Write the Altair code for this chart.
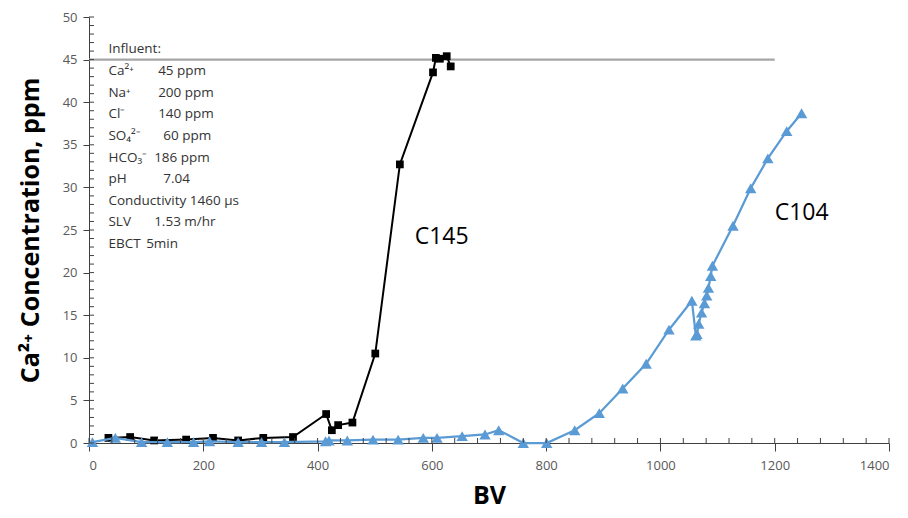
import altair as alt
import pandas as pd
import numpy as np

# ---- data ----
c145_bv = [34, 72, 114, 170, 217, 261, 305, 357, 415, 425, 436, 461, 501, 544, 602, 607, 614, 626, 633]
c145_ppm = [0.6, 0.7, 0.3, 0.4, 0.6, 0.3, 0.6, 0.7, 3.4, 1.5, 2.1, 2.4, 10.5, 32.7, 43.5, 45.2, 45.1, 45.4, 44.2]

c104_bv = [6, 46, 92, 137, 183, 211, 261, 302, 342, 414, 420, 452, 497, 541, 585, 609, 653, 693, 717,
           760, 801, 850, 893, 934, 975, 1015, 1055, 1062, 1064, 1067, 1072, 1077, 1081, 1084, 1088,
           1091, 1127, 1158, 1188, 1221, 1247]
c104_ppm = [0.1, 0.6, 0.1, 0.1, 0.1, 0.2, 0.1, 0.1, 0.1, 0.2, 0.3, 0.3, 0.4, 0.4, 0.6, 0.6, 0.8, 1.0, 1.5,
            0.0, 0.0, 1.5, 3.5, 6.4, 9.3, 13.3, 16.7, 12.6, 12.8, 14.0, 15.3, 16.4, 17.3, 18.2, 19.6,
            20.8, 25.5, 29.9, 33.4, 36.6, 38.7]

influent_bv = [0, 1200]
influent_ppm = [45, 45]

info_labels = ["Influent:", "Ca²⁺", "Na⁺", "Cl⁻", "SO₄²⁻", "HCO₃⁻", "pH", "Conductivity 1460 µs", "SLV", "EBCT"]
info_values = ["", "45 ppm", "200 ppm", "140 ppm", "60 ppm", "186 ppm", "7.04", "", "1.53 m/hr", "5min"]
info_value_bv = [121, 121, 121, 121, 130, 114, 130, 121, 114, 100]
info_row_ppm = [46.3, 43.7, 41.1, 38.6, 36.0, 33.4, 31.0, 28.4, 25.9, 23.4]
info_label_bv = 34

series_labels = ["C145", "C104"]
series_label_bv = [570, 1200]
series_label_ppm = [24.2, 27.0]

x_ticks = list(range(0, 1401, 200))
y_ticks = list(range(0, 51, 5))
x_minor = list(range(0, 1401, 40))
y_minor = list(range(0, 51, 1))

FONT = "Open Sans"
AXC = "#404040"
W, H = 800, 426

xs = alt.Scale(domain=[0, 1400], nice=False, zero=False)
ys = alt.Scale(domain=[0, 50], nice=False)

xaxis = alt.Axis(values=x_ticks, format="d", grid=False, tickSize=8, labelPadding=8, domainColor=AXC,
                 tickColor=AXC, labelColor="#595959", labelFont=FONT, labelFontSize=13, title="BV",
                 titleFont=FONT, titleFontSize=25, titleFontWeight="bold", titleColor="#000000",
                 titlePadding=11)
yaxis = alt.Axis(values=y_ticks, format="d", grid=False, tickSize=6, labelPadding=6, domainColor=AXC,
                 tickColor=AXC, labelColor="#595959", labelFont=FONT, labelFontSize=13,
                 title="Ca²⁺ Concentration, ppm",
                 titleFont=FONT, titleFontSize=25, titleFontWeight="bold", titleColor="#000000",
                 titlePadding=19)

X = alt.X("bv:Q", scale=xs, axis=xaxis)
Y = alt.Y("ppm:Q", scale=ys, axis=yaxis)

df145 = pd.DataFrame({"bv": c145_bv, "ppm": c145_ppm, "o": range(len(c145_bv))})
df104 = pd.DataFrame({"bv": c104_bv, "ppm": c104_ppm, "o": range(len(c104_bv))})
dfinf = pd.DataFrame({"bv": influent_bv, "ppm": influent_ppm})

inf = alt.Chart(dfinf).mark_line(color="#a6a6a6", strokeWidth=2.25).encode(x=X, y=Y)

l145 = alt.Chart(df145).mark_line(color="#000000", strokeWidth=2).encode(x=X, y=Y, order="o:Q")
p145 = alt.Chart(df145).mark_point(shape="square", filled=True, color="#000000", size=60, opacity=1).encode(x=X, y=Y)

l104 = alt.Chart(df104).mark_line(color="#5b9bd5", strokeWidth=2.25).encode(x=X, y=Y, order="o:Q")
p104 = alt.Chart(df104).mark_point(shape="triangle-up", filled=True, color="#5b9bd5", size=130, opacity=1).encode(x=X, y=Y)

# minor / inside ticks
ymin = alt.Chart(pd.DataFrame({"ppm": y_minor})).mark_rule(color=AXC, strokeWidth=1).encode(
    y=Y, x=alt.value(0), x2=alt.value(5))
xmin = alt.Chart(pd.DataFrame({"bv": x_minor})).mark_rule(color=AXC, strokeWidth=1).encode(
    x=X, y=alt.value(H), y2=alt.value(H - 5))

dfinfo = pd.DataFrame({"label": info_labels, "value": info_values, "vbv": info_value_bv,
                       "ppm": info_row_ppm, "bv": [info_label_bv] * len(info_labels)})
tlab = alt.Chart(dfinfo).mark_text(align="left", baseline="middle", font=FONT, fontSize=13.5,
                                   color="#333333").encode(x=X, y=Y, text="label:N")
tval = alt.Chart(dfinfo).transform_calculate(bv="datum.vbv").mark_text(
    align="left", baseline="middle", font=FONT, fontSize=13.5, color="#333333").encode(x=X, y=Y, text="value:N")

dfser = pd.DataFrame({"t": series_labels, "bv": series_label_bv, "ppm": series_label_ppm})
tser = alt.Chart(dfser).mark_text(align="left", baseline="middle", font=FONT, fontSize=23,
                                  color="#000000").encode(x=X, y=Y, text="t:N")

chart = alt.layer(inf, l145, p145, l104, p104, ymin, xmin, tlab, tval, tser).properties(
    width=W, height=H,
    padding={"left": 81, "top": 9, "right": 11, "bottom": 74},
    autosize=alt.AutoSizeParams(type="none"),
).configure_view(stroke=None)

chart.save("out.html", embed_options={"renderer": "svg", "actions": False})
